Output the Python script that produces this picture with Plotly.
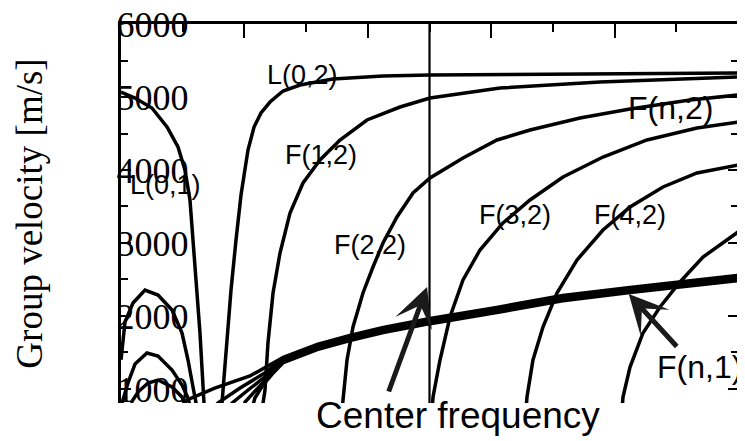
import plotly.graph_objects as go

# ---------------- data ----------------
# x: frequency in arbitrary units (the original has no x tick labels), 0..10 across the plot
x_range = [0, 10]
y_range = [808, 6000]
y_tick_vals = [1000, 2000, 3000, 4000, 5000, 6000]
y_tick_text = ["1000", "2000", "3000", "4000", "5000", "6000"]
center_frequency = 5.0

# L(0,1)
l01_x = [0.0, 0.227, 0.502, 0.746, 0.924, 1.037, 1.118, 1.199, 1.280, 1.345, 1.36]
l01_y = [5068, 4986, 4849, 4589, 4315, 4000, 3589, 2671, 1767, 808, 438]

# low-frequency humps
hump1_x = [0.0, 0.065, 0.194, 0.389, 0.600, 0.827, 0.989, 1.086, 1.167, 1.216, 1.23]
hump1_y = [1400, 1917, 2178, 2356, 2287, 2082, 1767, 1397, 1027, 808, 575]
hump2_x = [0.016, 0.113, 0.227, 0.421, 0.600, 0.827, 0.989, 1.086, 1.134]
hump2_y = [808, 1082, 1342, 1493, 1452, 1260, 1054, 876, 712]
hump3_x = [0.162, 0.276, 0.438, 0.600, 0.827, 0.989, 1.07]
hump3_y = [808, 958, 1082, 1123, 1027, 890, 712]

# L(0,2)
l02_x = [1.637, 1.702, 1.783, 1.864, 1.945, 2.058, 2.156, 2.269, 2.415, 2.626, 2.901, 3.436, 4.246, 5.008, 6.953, 10.0]
l02_y = [808, 1534, 2356, 3041, 3657, 4274, 4589, 4781, 4931, 5082, 5164, 5247, 5288, 5301, 5315, 5329]

# F(1,2)
f12_x = [2.285, 2.334, 2.382, 2.464, 2.577, 2.739, 2.950, 3.225, 3.549, 3.987, 4.522, 5.008, 6.143, 7.763, 10.0]
f12_y = [712, 986, 1630, 2315, 2863, 3411, 3822, 4137, 4411, 4685, 4863, 4986, 5123, 5205, 5274]

# F(2,2)
f22_x = [3.582, 3.598, 3.663, 3.760, 3.922, 4.084, 4.246, 4.473, 4.733, 5.008, 5.543, 6.094, 6.629, 7.439, 8.250, 9.222, 10.0]
f22_y = [712, 876, 1397, 1849, 2315, 2671, 3000, 3356, 3685, 3890, 4164, 4411, 4548, 4712, 4836, 4959, 5027]

# F(3,2)
f32_x = [5.041, 5.057, 5.170, 5.332, 5.543, 5.818, 6.191, 6.629, 7.164, 7.812, 8.525, 9.335, 10.0]
f32_y = [712, 890, 1397, 1986, 2493, 2904, 3274, 3589, 3904, 4178, 4411, 4575, 4657]

# F(4,2)
f42_x = [6.564, 6.580, 6.677, 6.839, 7.066, 7.390, 7.812, 8.250, 8.784, 9.335, 10.0]
f42_y = [712, 890, 1397, 1849, 2315, 2767, 3178, 3493, 3767, 3959, 4068]

# F(5,2)
f52_x = [8.120, 8.136, 8.250, 8.460, 8.736, 9.060, 9.433, 10.0]
f52_y = [712, 890, 1301, 1767, 2123, 2466, 2808, 3150]

# F(n,1) bundle (five nearly coincident curves)
fn1_tail_x = [2.63, 3.18, 3.71, 4.25, 5.01, 6.09, 7.16, 8.25, 10.0]
fa1_x = [0.924, 1.07, 1.52, 2.09] + fn1_tail_x
fa1_y = [712, 849, 1013, 1178, 1433, 1611, 1734, 1844, 1967, 2118, 2282, 2392, 2556]
fb1_x = [1.475, 1.57, 1.93, 2.33] + fn1_tail_x
fb1_y = [712, 808, 1013, 1219, 1415, 1593, 1716, 1826, 1949, 2100, 2264, 2374, 2538]
fc1_x = [1.75, 1.80, 2.06, 2.33] + fn1_tail_x
fc1_y = [712, 808, 986, 1164, 1397, 1575, 1698, 1808, 1931, 2082, 2246, 2356, 2520]
fd1_x = [1.98, 2.01, 2.19, 2.38] + fn1_tail_x
fd1_y = [712, 821, 986, 1150, 1379, 1557, 1680, 1790, 1913, 2064, 2228, 2338, 2502]
fe1_x = [2.12, 2.17, 2.30, 2.45] + fn1_tail_x
fe1_y = [712, 876, 1054, 1205, 1361, 1539, 1662, 1772, 1895, 2046, 2210, 2320, 2484]

curves = [
    (l01_x, l01_y), (hump1_x, hump1_y), (hump2_x, hump2_y), (hump3_x, hump3_y),
    (l02_x, l02_y), (f12_x, f12_y), (f22_x, f22_y), (f32_x, f32_y),
    (f42_x, f42_y), (f52_x, f52_y),
    (fa1_x, fa1_y), (fb1_x, fb1_y), (fc1_x, fc1_y), (fd1_x, fd1_y), (fe1_x, fe1_y),
]

# mode labels: text, x, y, font size
label_text = ["L(0,1)", "L(0,2)", "F(1,2)", "F(2,2)", "F(3,2)", "F(4,2)", "F(n,2)", "F(n,1)"]
label_x = [0.729, 2.934, 3.241, 4.036, 6.386, 8.250, 8.914, 9.37]
label_y = [3794, 5301, 4205, 2972, 3383, 3383, 4849, 1301]
label_size = [27, 27, 27, 27, 27, 27, 32, 32]

# arrows: (tip x, tip y, tail x, tail y)
arrow_center = (4.96, 2397, 4.33, 945)
arrow_fn1 = (8.23, 2301, 9.03, 1561)

# ---------------- figure ----------------
fig = go.Figure()
for cx, cy in curves:
    fig.add_trace(go.Scatter(x=cx, y=cy, mode="lines",
                             line=dict(color="black", width=3.5),
                             hoverinfo="skip", showlegend=False))

# center-frequency vertical line
fig.add_trace(go.Scatter(x=[center_frequency, center_frequency], y=[y_range[0], y_range[1]],
                         mode="lines", line=dict(color="black", width=2.2),
                         hoverinfo="skip", showlegend=False))

sans = "Liberation Sans, Arial, sans-serif"
serif = "Liberation Serif, Times New Roman, serif"

annotations = []
for t, lx, ly, fs in zip(label_text, label_x, label_y, label_size):
    annotations.append(dict(x=lx, y=ly, xref="x", yref="y", text=t, showarrow=False,
                            xanchor="center", yanchor="middle",
                            font=dict(family=sans, size=fs, color="black")))

for tip_x, tip_y, tail_x, tail_y in (arrow_center, arrow_fn1):
    annotations.append(dict(x=tip_x, y=tip_y, ax=tail_x, ay=tail_y,
                            xref="x", yref="y", axref="x", ayref="y",
                            text="", showarrow=True, arrowhead=3, arrowsize=1.3,
                            arrowwidth=5, arrowcolor="#1a1a1a"))

annotations.append(dict(x=5.46, y=-0.034, xref="x", yref="paper", text="Center frequency",
                        showarrow=False, xanchor="center", yanchor="middle",
                        font=dict(family=sans, size=37, color="black")))

# the page body adds an 8 px offset, so the figure is 8 px smaller and shifted margins
fig.update_layout(
    width=737, height=433,
    margin=dict(l=113, r=7, t=16, b=38, autoexpand=False),
    paper_bgcolor="white", plot_bgcolor="white",
    showlegend=False,
    annotations=annotations,
    xaxis=dict(range=x_range, side="top", showline=True, linecolor="black", linewidth=2.5,
               mirror=False, showgrid=False, zeroline=False, showticklabels=False,
               ticks="inside", tickmode="linear", tick0=0, dtick=2, ticklen=14,
               tickwidth=2, tickcolor="black", automargin=False,
               minor=dict(ticks="inside", dtick=1, ticklen=8, tickwidth=2, tickcolor="black")),
    yaxis=dict(range=y_range, showline=True, linecolor="black", linewidth=2.5,
               mirror="ticks", showgrid=False, zeroline=False,
               tickmode="array", tickvals=y_tick_vals, ticktext=y_tick_text,
               ticks="inside", ticklen=10, tickwidth=2, tickcolor="black",
               ticklabelposition="inside", ticklabeloverflow="allow",
               ticklabelstandoff=-10, ticklabelshift=0,
               tickfont=dict(family=serif, size=36, color="black"),
               minor=dict(ticks="inside", dtick=500, tick0=0, ticklen=7, tickwidth=2,
                          tickcolor="black"),
               title=dict(text="Group velocity [m/s]", standoff=63,
                          font=dict(family=serif, size=37, color="black")),
               automargin=False),
)

fig.write_html("out.html")
